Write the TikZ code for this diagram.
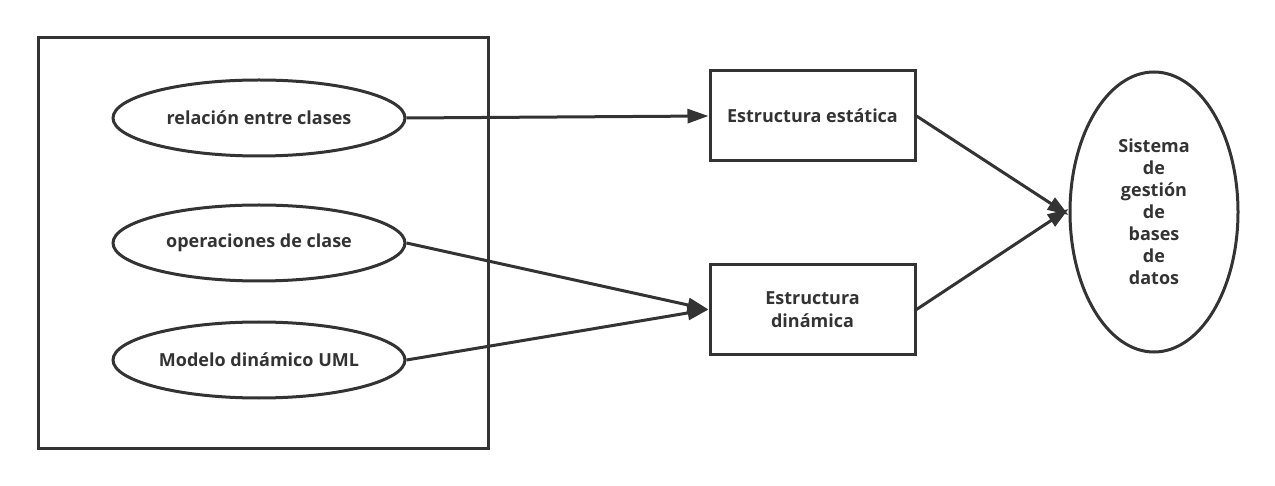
\documentclass[tikz,border=0pt]{standalone}
\usepackage{fontspec}
\setmainfont{Open Sans}
\usetikzlibrary{shapes.geometric,arrows.meta}
\definecolor{ink}{HTML}{333333}
\begin{document}
\begin{tikzpicture}[x=1pt,y=-1pt,
  txt/.style={font=\fontsize{18}{22}\selectfont\bfseries, text=ink},
  oval/.style={ellipse, draw=ink, line width=3pt, minimum width=292pt, minimum height=76pt, inner sep=0pt, txt},
  boxnode/.style={rectangle, draw=ink, line width=3pt, minimum width=205pt, minimum height=90pt, inner sep=0pt, txt, align=center},
  conn/.style={draw=ink, line width=3pt, -{Triangle[length=21pt,width=14pt]}}]
\useasboundingbox (0,0) rectangle (1275,486);
\node[draw=ink, line width=3pt, minimum width=450pt, minimum height=410pt, inner sep=0pt] (frame) at (263,243) {};
\node[oval] (e1) at (259,118) {relación entre clases};
\node[oval] (e2) at (259,243) {operaciones de clase};
\node[oval] (e3) at (259,360) {Modelo dinámico UML};
\node[boxnode] (r1) at (812.5,116) {Estructura estática};
\node[boxnode] (r2) at (812.5,309.5) {Estructura\\[1pt]dinámica};
\node[ellipse, draw=ink, line width=3pt, minimum width=168pt, minimum height=280pt, inner sep=0pt, txt, align=center] (db) at (1154,212) {Sistema\\de\\gestión\\de\\bases\\de\\datos};
\draw[conn] (e1.east) -- (r1.west);
\draw[conn] (e2.east) -- (r2.west);
\draw[conn] (e3.east) -- (r2.west);
\draw[conn] (r1.east) -- ([yshift=-3pt]db.west);
\draw[conn] (r2.east) -- ([yshift=3pt]db.west);
\end{tikzpicture}
\end{document}
